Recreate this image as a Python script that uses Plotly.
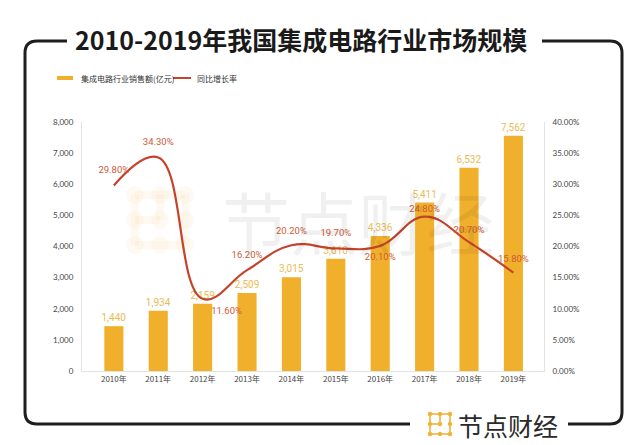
import plotly.graph_objects as go

# dane
years = ["2010年", "2011年", "2012年", "2013年", "2014年",
         "2015年", "2016年", "2017年", "2018年", "2019年"]
sales = [1440, 1934, 2159, 2509, 3015, 3610, 4336, 5411, 6532, 7562]
growth = [29.8, 34.3, 11.6, 16.2, 20.2, 19.7, 20.1, 24.8, 20.7, 15.8]
growth_pos = ["top center", "top center", "bottom right", "top center", "top center",
              "top center", "bottom center", "top center", "top center", "top center"]
# niewidoczne markery odsuwają etykiety od linii
label_gap = [14, 14, 12, 14, 12, 14, 10, 2, 10, 12]

BAR_COLOR = "#F0B02C"
LINE_COLOR = "#C5432B"
NUM_FONT = "Liberation Sans Narrow, Roboto, sans-serif"
CJK = "Noto Sans CJK SC, sans-serif"

# obszar wykresu w pikselach (strona ma 8px marginesu body)
OFF = 8
L, R, T, B = 82, 544, 122, 371
W, H = 640, 445


def px(x):
    return (x - L) / (R - L)


def py(y):
    return (B - y) / (B - T)


fig = go.Figure()

fig.add_trace(go.Bar(
    x=years, y=sales, name="集成电路行业销售额(亿元)",
    marker=dict(color=BAR_COLOR, line_width=0),
    texttemplate="%{y:,}", textposition="outside", constraintext="none",
    textfont=dict(family=NUM_FONT, size=10, color="#EABB55"),
    cliponaxis=False, showlegend=False,
))

fig.add_trace(go.Scatter(
    x=years, y=growth, name="同比增长率", yaxis="y2",
    mode="lines+markers+text",
    line=dict(color=LINE_COLOR, width=2.2, shape="spline", smoothing=1.2),
    marker=dict(size=label_gap, color="rgba(0,0,0,0)", opacity=0,
                line=dict(width=0, color="rgba(0,0,0,0)")),
    texttemplate="%{y:.2f}%", textposition=growth_pos,
    textfont=dict(family=NUM_FONT, size=9.5, color="#CF5A38"),
    cliponaxis=False, showlegend=False, hoverinfo="x+y",
))

shapes = []
annotations = []


def label(x, y, text, size, color, family=CJK, xanchor="center"):
    annotations.append(dict(x=px(x), y=py(y), xref="paper", yref="paper",
                            xanchor=xanchor, yanchor="middle", text=text,
                            showarrow=False,
                            font=dict(family=family, size=size, color=color)))


# ramka z zaokrąglonymi rogami
r = 12
frame_left = (f"M {px(67)},{py(41)} L {px(25 + r)},{py(41)} "
              f"Q {px(25)},{py(41)} {px(25)},{py(41 + r)} "
              f"L {px(25)},{py(424 - r)} Q {px(25)},{py(424)} {px(25 + r)},{py(424)} "
              f"L {px(410)},{py(424)}")
frame_right = (f"M {px(542)},{py(41)} L {px(622 - r)},{py(41)} "
               f"Q {px(622)},{py(41)} {px(622)},{py(41 + r)} "
               f"L {px(622)},{py(424 - r)} Q {px(622)},{py(424)} {px(622 - r)},{py(424)} "
               f"L {px(568)},{py(424)}")
for p in (frame_left, frame_right):
    shapes.append(dict(type="path", path=p, xref="paper", yref="paper",
                       line=dict(color="#1E1E1E", width=3)))


def logo(x0, y0, size, color, lw, dot, layer="above"):
    # ikonka: siatka 3x3 kropek połączonych liniami
    s = size / 2
    pts = {(i, j): (x0 + i * s, y0 + j * s) for i in range(3) for j in range(3)}
    links = [((0, 0), (2, 0)), ((0, 0), (0, 2)), ((0, 2), (2, 2)),
             ((2, 0), (2, 2)), ((0, 1), (1, 1)), ((1, 0), (1, 1))]
    for a, b in links:
        (xa, ya), (xb, yb) = pts[a], pts[b]
        shapes.append(dict(type="line", xref="paper", yref="paper",
                           x0=px(xa), y0=py(ya), x1=px(xb), y1=py(yb),
                           line=dict(color=color, width=lw), layer=layer))
    for (xc, yc) in pts.values():
        shapes.append(dict(type="circle", xref="paper", yref="paper",
                           x0=px(xc - dot), x1=px(xc + dot),
                           y0=py(yc - dot), y1=py(yc + dot),
                           fillcolor=color, line_width=0, layer=layer))


# znak wodny
logo(135, 195, 50, "rgba(240,176,44,0.06)", 8, 9, layer="below")
label(358, 220, "节点财经", 68, "rgba(0,0,0,0.06)")

# logo na dole
logo(430, 414, 20, "#EDB43A", 1.6, 2.2)
label(508, 425, "节点财经", 25, "#2A2A2A")

# tytuł
label(301, 39, "<b>2010-2019年我国集成电路行业市场规模</b>", 25, "#1A1A1A")

# legenda rysowana ręcznie
shapes.append(dict(type="rect", xref="paper", yref="paper",
                   x0=px(57), x1=px(73), y0=py(76), y1=py(80),
                   fillcolor=BAR_COLOR, line_width=0))
shapes.append(dict(type="line", xref="paper", yref="paper",
                   x0=px(173), x1=px(191), y0=py(78), y1=py(78),
                   line=dict(color=LINE_COLOR, width=2)))
label(79, 78, "集成电路行业销售额(亿元)", 8, "#333", xanchor="left")
label(195, 78, "同比增长率", 8, "#333", xanchor="left")

axis_font = dict(family="Lato, Noto Sans, sans-serif", size=8, color="#444")

fig.update_layout(
    width=W, height=H,
    margin=dict(l=L - OFF, r=W - R + OFF, t=T - OFF, b=H - B + OFF),
    paper_bgcolor="white", plot_bgcolor="white",
    bargap=0.57,
    shapes=shapes, annotations=annotations,
    xaxis=dict(showgrid=False, showline=True, linecolor="#E3E3E3", ticks="",
               tickfont=dict(family=CJK, size=8, color="#444")),
    yaxis=dict(range=[0, 8000], dtick=1000, tickformat=",", showgrid=False,
               showline=True, linecolor="#E3E3E3", zeroline=False,
               tickfont=axis_font, ticklabelstandoff=6),
    yaxis2=dict(range=[0, 40], dtick=5, tickformat=".2f", ticksuffix="%",
                overlaying="y", side="right", showgrid=False,
                showline=True, linecolor="#E3E3E3", zeroline=False,
                tickfont=axis_font, ticklabelstandoff=6),
)

fig.write_html("out.html")
